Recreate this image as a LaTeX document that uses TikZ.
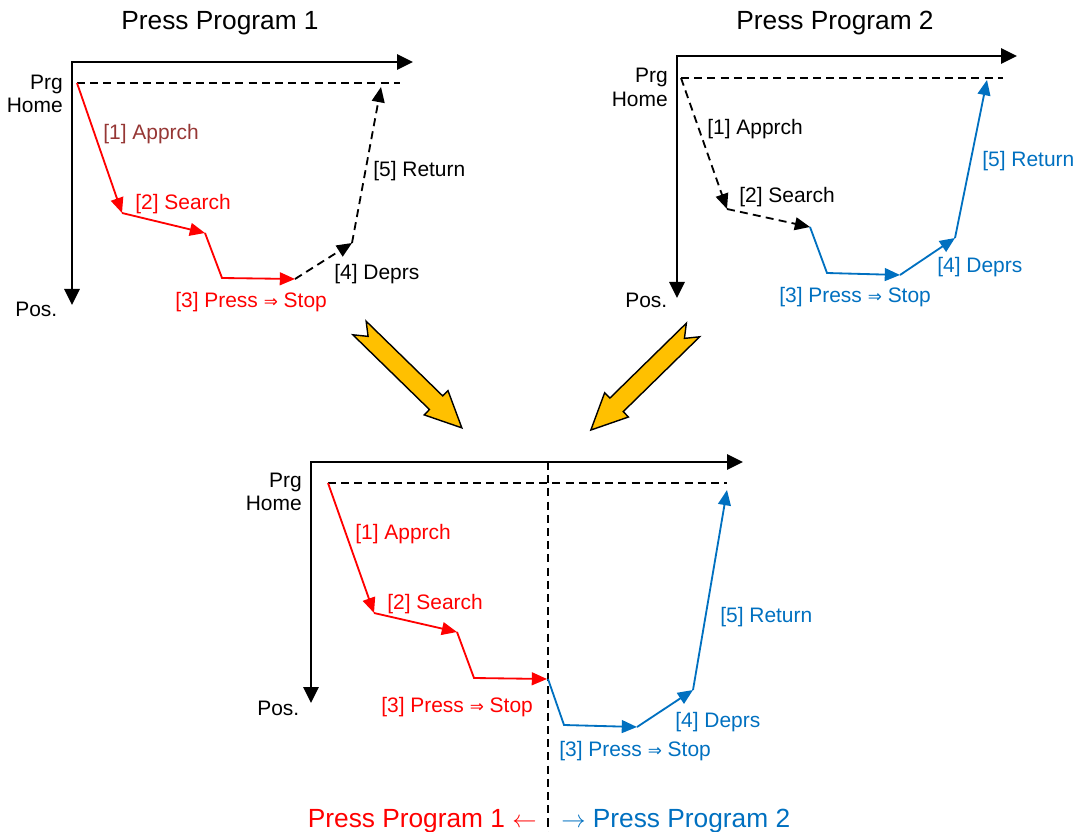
\documentclass[tikz,border=0pt]{standalone}
\usepackage{fontspec}
\setmainfont{Liberation Sans}
\newfontfamily\symfont{DejaVu Sans}
\usetikzlibrary{arrows.meta}

\definecolor{prgred}{RGB}{255,0,0}
\definecolor{prgbrown}{RGB}{150,55,53}
\definecolor{prgblue}{RGB}{0,112,192}
\definecolor{prgyellow}{RGB}{255,192,0}

\newcommand{\pressstop}{[3] Press {\symfont\fontsize{12}{12}\selectfont ⇒} Stop}

\begin{document}
\begin{tikzpicture}[x=0.025cm,y=-0.025cm,
  axis/.style={line width=1.6pt,{Triangle[length=0.4cm,width=0.38cm]}-{Triangle[length=0.4cm,width=0.38cm]}},
  seg/.style={line width=1.3pt,-{Triangle[length=0.38cm,width=0.32cm]}},
  dseg/.style={seg,dash pattern=on 0.2cm off 0.13cm},
  homeline/.style={line width=1.2pt,dash pattern=on 0.2cm off 0.13cm},
  lbl/.style={font=\fontsize{14.9}{17}\selectfont,inner sep=0pt,anchor=base west},
  side/.style={font=\fontsize{14.9}{17}\selectfont,inner sep=0pt,anchor=base east},
  ttl/.style={font=\fontsize{18.7}{22}\selectfont,inner sep=0pt,anchor=base},
  bigarrow/.pic={\draw[line width=1pt,fill=prgyellow]
    (0,-9.5) -- (107,-9.5) -- (107,-17) -- (143,0) -- (107,17) -- (107,9.5) -- (0,9.5) -- (12,0) -- cycle;}
]
\useasboundingbox (0,0) rectangle (1083,832);

% Press Program 1
\node[ttl] (t1) at (220,30) {Press Program 1};
\coordinate (o1) at (72,62);
\coordinate (x1) at (413,62);
\coordinate (y1) at (72,305);
\draw[axis] (y1) -- (o1) -- (x1);
\node[side] (prg1) at (63,90) {Prg};
\node[side] (home1) at (63,113) {Home};
\node[lbl] (pos1) at (15,317) {Pos.};
\coordinate (a1) at (77,83);
\coordinate (a2) at (122,213);
\coordinate (a3) at (205,233);
\coordinate (a4) at (222,278);
\coordinate (a5) at (295,279);
\coordinate (a6) at (352,243);
\coordinate (a7) at (381,87);
\coordinate (e1) at (400,83);
\draw[homeline] (a1) -- (e1);
\draw[seg,prgred] (a1) -- (a2);
\draw[seg,prgred] (a2) -- (a3);
\draw[seg,prgred] (a3) -- (a4) -- (a5);
\draw[dseg] (a5) -- (a6);
\draw[dseg] (a6) -- (a7);
\node[lbl,prgbrown] (s1) at (103,140) {[1] Apprch};
\node[lbl,prgred] (s2) at (135,210) {[2] Search};
\node[lbl,prgred] (s3) at (175,308) {\pressstop};
\node[lbl] (s4) at (334,280) {[4] Deprs};
\node[lbl] (s5) at (373,177) {[5] Return};

% Press Program 2
\node[ttl] (t2) at (835,30) {Press Program 2};
\coordinate (o2) at (677,56);
\coordinate (x2) at (1017,56);
\coordinate (y2) at (677,298);
\draw[axis] (y2) -- (o2) -- (x2);
\node[side] (prg2) at (668,83) {Prg};
\node[side] (home2) at (668,107) {Home};
\node[lbl] (pos2) at (625,308) {Pos.};
\coordinate (b1) at (681,78);
\coordinate (b2) at (727,209);
\coordinate (b3) at (810,227);
\coordinate (b4) at (827,273);
\coordinate (b5) at (900,275);
\coordinate (b6) at (955,238);
\coordinate (b7) at (987,80);
\coordinate (e2) at (1003,78);
\draw[homeline] (b1) -- (e2);
\draw[dseg] (b1) -- (b2);
\draw[dseg] (b2) -- (b3);
\draw[seg,prgblue] (b3) -- (b4) -- (b5);
\draw[seg,prgblue] (b5) -- (b6);
\draw[seg,prgblue] (b6) -- (b7);
\node[lbl] (r1) at (707,135) {[1] Apprch};
\node[lbl] (r2) at (739,203) {[2] Search};
\node[lbl,prgblue] (r3) at (779,303) {\pressstop};
\node[lbl,prgblue] (r4) at (937,273) {[4] Deprs};
\node[lbl,prgblue] (r5) at (982,167) {[5] Return};

% merge arrows
\pic[rotate=-44.3] (m1) at (359.5,328) {bigarrow};
\pic[rotate=-135.6] (m2) at (693,330) {bigarrow};

% combined program
\coordinate (o3) at (311,462);
\coordinate (x3) at (743,462);
\coordinate (y3) at (311,703);
\draw[axis] (y3) -- (o3) -- (x3);
\node[side] (prg3) at (302,487) {Prg};
\node[side] (home3) at (302,510) {Home};
\node[lbl] (pos3) at (257,715) {Pos.};
\coordinate (c1) at (328,483);
\coordinate (c2) at (374,613);
\coordinate (c3) at (457,632);
\coordinate (c4) at (474,678);
\coordinate (c5) at (547,679);
\coordinate (c6) at (548,679);
\coordinate (c7) at (564,725);
\coordinate (c8) at (637,727);
\coordinate (c9) at (693,690);
\coordinate (c10) at (727,490);
\coordinate (e3) at (727,483);
\coordinate (d1) at (548,462);
\coordinate (d2) at (548,832);
\draw[homeline] (c1) -- (e3);
\draw[homeline] (d1) -- (d2);
\draw[seg,prgred] (c1) -- (c2);
\draw[seg,prgred] (c2) -- (c3);
\draw[seg,prgred] (c3) -- (c4) -- (c5);
\draw[seg,prgblue] (c6) -- (c7) -- (c8);
\draw[seg,prgblue] (c8) -- (c9);
\draw[seg,prgblue] (c9) -- (c10);
\node[lbl,prgred] (u1) at (355,539) {[1] Apprch};
\node[lbl,prgred] (u2) at (387,609) {[2] Search};
\node[lbl,prgred] (u3) at (381,712) {\pressstop};
\node[lbl,prgblue] (v3) at (559,756) {\pressstop};
\node[lbl,prgblue] (v4) at (675,727) {[4] Deprs};
\node[lbl,prgblue] (v5) at (720,622) {[5] Return};
\node[ttl,anchor=base east,prgred] (w1) at (537,827) {Press Program 1 $\leftarrow$};
\node[ttl,anchor=base west,prgblue] (w2) at (561,827) {$\rightarrow$ Press Program 2};
\end{tikzpicture}
\end{document}
